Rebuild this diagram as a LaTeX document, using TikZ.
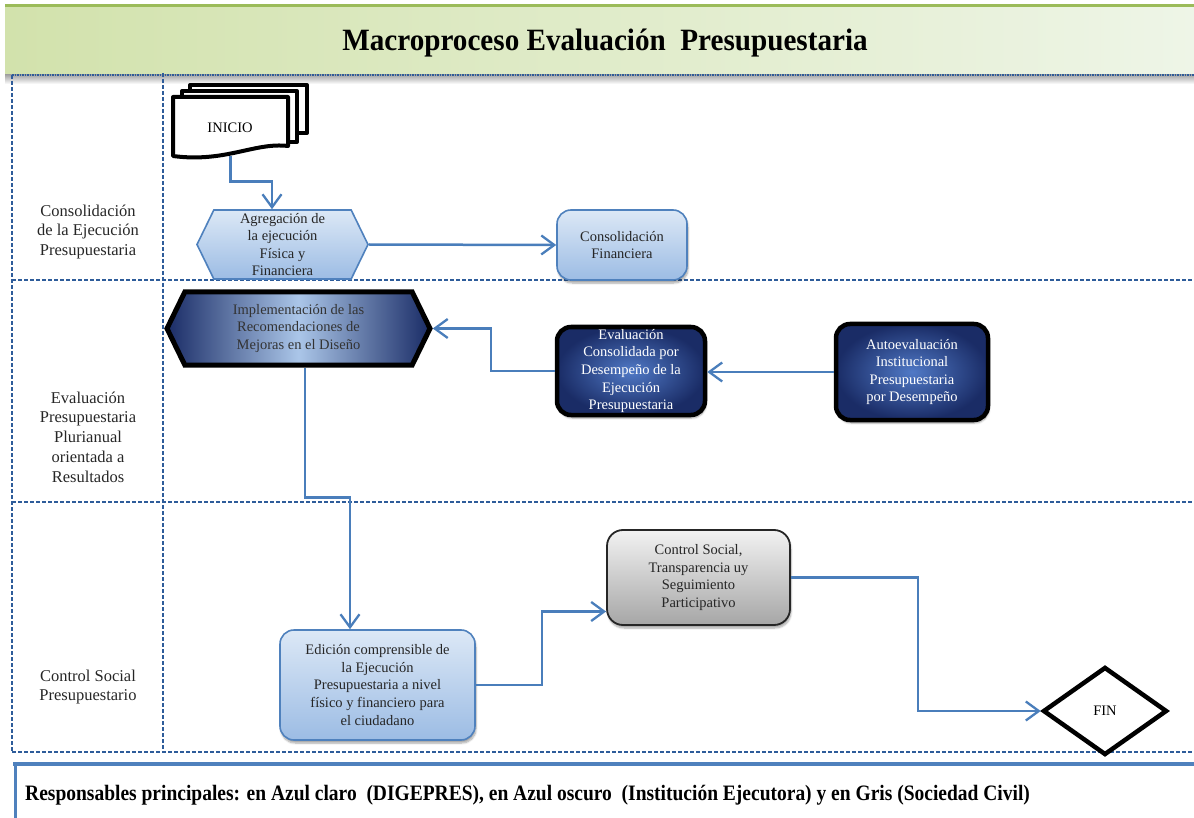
\documentclass[tikz,border=0pt]{standalone}
\usepackage{fontspec}
\setmainfont{Liberation Serif}
\newfontfamily\titleserif[FakeStretch=0.94]{Liberation Serif}
\newfontfamily\footserif[FakeStretch=0.886]{Liberation Serif}
\usetikzlibrary{shapes.symbols,shapes.geometric,arrows.meta,shadows.blur,calc}

\definecolor{connblue}{HTML}{4A7EBB}
\definecolor{laneblue}{HTML}{2E5C9A}
\definecolor{boxblue}{HTML}{4F81BD}
\definecolor{lighttop}{HTML}{DCE8F6}
\definecolor{lightbot}{HTML}{9CBCE4}
\definecolor{darkin}{HTML}{5079C6}
\definecolor{darkout}{HTML}{1A2C66}
\definecolor{greyleft}{HTML}{F2F2F2}
\definecolor{greybot}{HTML}{A6A6A6}
\definecolor{bandleft}{HTML}{D2E2AC}
\definecolor{bandright}{HTML}{EEF5E7}
\definecolor{bandline}{HTML}{9BBB59}

\tikzset{
  lane/.style={draw=laneblue, line width=1.1pt, dash pattern=on 4pt off 2pt},
  lanelabel/.style={align=center, font=\fontsize{16.5}{19.8}\selectfont, text=black!85},
  boxtext/.style={align=center, font=\fontsize{14.5}{17.6}\selectfont, inner sep=0pt},
  lightbox/.style={boxtext, rounded corners=14pt, draw=boxblue, line width=1.6pt,
    top color=lighttop, bottom color=lightbot, text=black!85,
    blur shadow={shadow xshift=1pt, shadow yshift=-3pt, shadow blur steps=6, shadow opacity=35}},
  darkbox/.style={boxtext, rounded corners=14pt, draw=black, line width=4.5pt,
    inner color=darkin, outer color=darkout, text=white,
    blur shadow={shadow xshift=1pt, shadow yshift=-3pt, shadow blur steps=6, shadow opacity=35}},
  greybox/.style={boxtext, rounded corners=16pt, draw=black!85, line width=1.8pt,
    top color=greyleft, bottom color=greybot, text=black!85,
    blur shadow={shadow xshift=1pt, shadow yshift=-3pt, shadow blur steps=6, shadow opacity=35}},
  hexbox/.style={boxtext, signal, signal to=west and east, signal pointer angle=128},
  docshape/.style={draw=black, line width=4pt, fill=white, line join=round},
  conn/.style={draw=connblue, line width=2.5pt,
    -{Straight Barb[length=13pt, width=19pt, line width=2.3pt]}},
}

\begin{document}
\begin{tikzpicture}[x=1pt, y=-1pt]
\useasboundingbox (0,0) rectangle (1194,818);

% ---- title band ----
\shade[left color=bandleft, right color=bandright] (5,7) rectangle (1194,74);
\shade[top color=black!35, bottom color=white] (5,75) rectangle (1194,84);
\draw[bandline, line width=3pt] (5,6) -- (1194,6);
\draw[laneblue, line width=1.4pt, dash pattern=on 1.5pt off 1pt] (12,75) -- (1194,75);
\node[font=\titleserif\bfseries\fontsize{31}{36}\selectfont] (title) at (605,43)
  {Macroproceso Evaluación\ \ Presupuestaria};

% ---- swimlanes ----
\draw[lane] (12,75) -- (12,752);
\draw[lane] (163,73) -- (163,752);
\draw[lane] (12,280) -- (1194,280);
\draw[lane] (12,502) -- (1194,502);
\draw[lane] (12,752) -- (1194,752);

\node[lanelabel] (lane1) at (88,232) {Consolidación\\de la Ejecución\\Presupuestaria};
\node[lanelabel] (lane2) at (88,437) {Evaluación\\Presupuestaria\\Plurianual\\orientada a\\Resultados};
\node[lanelabel] (lane3) at (88,687) {Control Social\\Presupuestario};

% ---- start: stacked documents ----
\draw[docshape] (190,85) rectangle (307,133);
\draw[docshape] (182,91) rectangle (297,142);
\draw[docshape] (173,97) -- (288,97) -- (288,146)
  .. controls (255,142) and (225,163) .. (173,156) -- cycle;
\node[inner sep=0pt, minimum width=115pt, minimum height=59pt] (inicio) at (230.5,126.5) {};
\node[font=\fontsize{14.5}{17}\selectfont] (iniciotext) at (230,128) {INICIO};

% ---- process nodes ----
\node[hexbox, minimum width=171pt, minimum height=69pt, draw=boxblue, line width=1.6pt,
  top color=lighttop, bottom color=lightbot, text=black!85] (agreg) at (282.5,244.5)
  {Agregación de\\la ejecución\\Física y\\Financiera};

\node[lightbox, minimum width=130pt, minimum height=70pt] (consol) at (622,245)
  {Consolidación\\Financiera};

\node[hexbox, minimum width=263pt, minimum height=73pt, draw=black, line width=5pt,
  left color=darkout, right color=darkout, middle color=lightbot!85!white, text=black!80] (impl) at (298.5,328.5)
  {Implementación de las\\Recomendaciones de\\Mejoras en el Diseño};

\node[darkbox, minimum width=148pt, minimum height=88pt] (evalc) at (631,371)
  {Evaluación\\Consolidada por\\Desempeño de la\\Ejecución\\Presupuestaria};

\node[darkbox, minimum width=152pt, minimum height=96pt] (auto) at (912,372)
  {Autoevaluación\\Institucional\\Presupuestaria\\por Desempeño};

\node[lightbox, minimum width=195pt, minimum height=110pt] (edicion) at (377.5,685)
  {Edición comprensible de\\la Ejecución\\Presupuestaria a nivel\\físico y financiero para\\el ciudadano};

\node[greybox, minimum width=183pt, minimum height=95pt] (control) at (698.5,577.5)
  {Control Social,\\Transparencia uy\\Seguimiento\\Participativo};

\node[diamond, draw=black, line width=4.5pt, fill=white, minimum width=124pt, minimum height=88pt,
  inner sep=0pt, font=\fontsize{14.5}{17}\selectfont] (fin) at (1105,711) {FIN};

% ---- connectors ----
\draw[conn] (inicio.south) -- ++(0,25.5) -| ([xshift=-10.5pt]agreg.north);
\draw[conn] (agreg.east) -- (consol.west);
\draw[conn] (auto.west) -- (auto.west -| evalc.east);
\draw[conn] (evalc.west) -- ++(-64,0) |- (impl.east);
\draw[conn] ([xshift=6.5pt]impl.south) -- ++(0,130) -| ([xshift=-27.5pt]edicion.north);
\draw[conn] (edicion.east) -- ++(66,0) |- ([yshift=-34pt]control.west);
\draw[conn] (control.east) -- ++(127,0) |- (fin.west);

% ---- footer ----
\draw[boxblue, line width=4pt] (13,764) -- (1194,764);
\draw[boxblue, line width=3pt] (15,762) -- (15,818);
\node[anchor=west, font=\footserif\bfseries\fontsize{22}{25}\selectfont, inner sep=0pt] (footer) at (25,795)
  {Responsables principales: en Azul claro\ \ (DIGEPRES), en Azul oscuro\ \ (Institución Ejecutora) y en Gris (Sociedad Civil)};
\end{tikzpicture}
\end{document}
